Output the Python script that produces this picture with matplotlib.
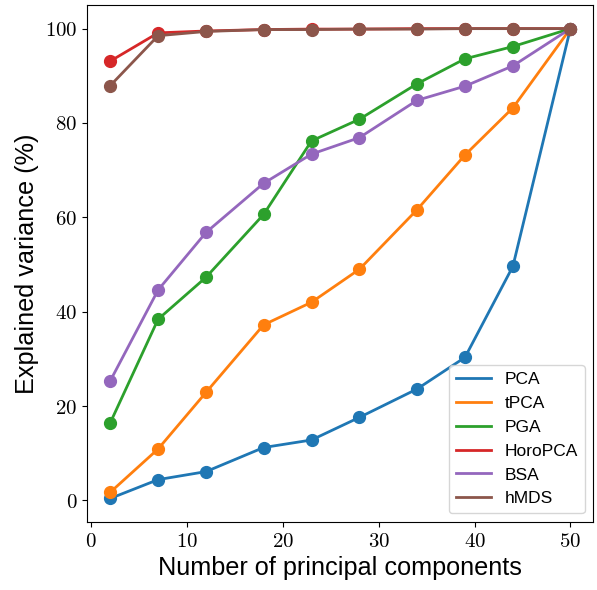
import matplotlib
matplotlib.use('Agg')
import matplotlib.pyplot as plt
from matplotlib.ticker import FuncFormatter

plt.rcParams['mathtext.fontset'] = 'cm'
plt.rcParams['font.family'] = ['Liberation Sans', 'DejaVu Sans']

# Number of principal components
n_comp = [2, 7, 12, 18, 23, 28, 34, 39, 44, 50]

# Explained variance (%) per method
pca = [0.4, 4.4, 6.1, 11.2, 12.8, 17.6, 23.6, 30.3, 49.6, 100.0]
tpca = [1.7, 10.9, 22.9, 37.2, 42.0, 49.0, 61.6, 73.2, 83.2, 100.0]
pga = [16.4, 38.4, 47.3, 60.6, 76.2, 80.8, 88.3, 93.6, 96.2, 100.0]
horopca = [93.1, 99.1, 99.5, 99.8, 99.9, 99.9, 100.0, 100.0, 100.0, 100.0]
bsa = [25.3, 44.6, 56.8, 67.2, 73.4, 76.9, 84.8, 87.8, 92.1, 100.0]
hmds = [87.9, 98.5, 99.4, 99.8, 99.8, 99.9, 99.9, 100.0, 100.0, 100.0]

methods = ['PCA', 'tPCA', 'PGA', 'HoroPCA', 'BSA', 'hMDS']
series = [pca, tpca, pga, horopca, bsa, hmds]
colors = ['#1f77b4', '#ff7f0e', '#2ca02c', '#d62728', '#9467bd', '#8c564b']

fig = plt.figure(figsize=(5.97, 5.90), dpi=100)
ax = fig.add_axes([0.146, 0.1153, 0.848, 0.876])

for name, vals, c in zip(methods, series, colors):
    ax.plot(n_comp, vals, color=c, lw=2, label=name)
    ax.plot(n_comp, vals, color=c, ls='none', marker='o', ms=8.5)

# tick labels in computer modern, like LaTeX
fmt = FuncFormatter(lambda v, p: r'$%d$' % v)
ax.xaxis.set_major_formatter(fmt)
ax.yaxis.set_major_formatter(fmt)
ax.tick_params(labelsize=15)

ax.set_xlabel('Number of principal components', fontsize=18.2)
ax.set_ylabel('Explained variance (%)', fontsize=18.2)

ax.legend(loc='lower right', fontsize=12.5)

fig.savefig('out.png', dpi=100)
